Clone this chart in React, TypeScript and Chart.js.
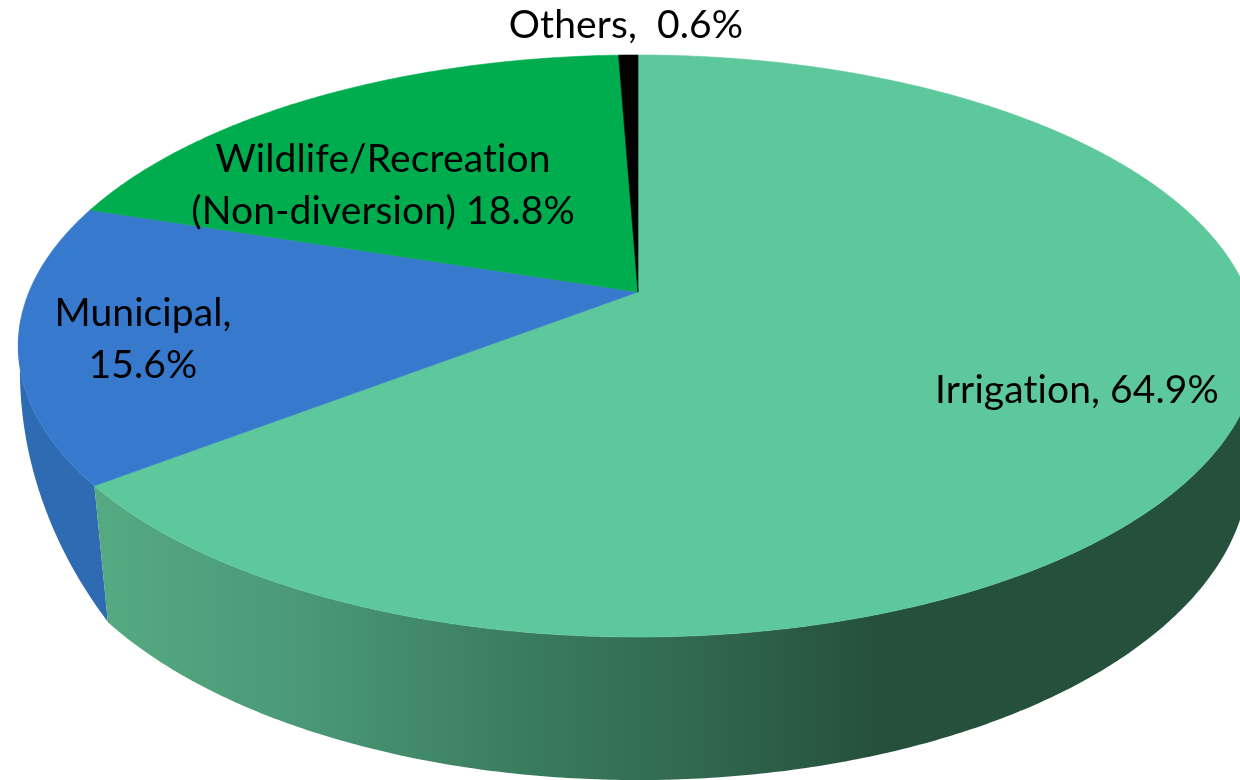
import React, { useEffect, useRef } from "react";
import { Chart, registerables } from "chart.js";

Chart.register(...registerables);

const categories = ["Irrigation", "Municipal", "Wildlife/Recreation (Non-diversion)", "Others"];
const shares = [64.9, 15.6, 18.8, 0.6];
const topColors = ["#5DC89B", "#377ACD", "#00AD4E", "#000000"];
const labelLines = [
  ["Irrigation, 64.9%"],
  ["Municipal,", "15.6%"],
  ["Wildlife/Recreation", "(Non-diversion) 18.8%"],
  ["Others,  0.6%"],
];
const labelAnchors = [
  [1077, 403],
  [143, 326],
  [383, 172],
  [626, 38],
];
const LINE_GAP = 52;
const FONT = '39px Lato, "Noto Sans", sans-serif';

type Plane = { x: number; y: number; a: number; b: number; k: number };
const topPlane: Plane = { x: 638, y: 292, a: 609, b: 281, k: 0.1856 };
const basePlane: Plane = { x: 638, y: 414.5, a: 602.8, b: 305.6, k: 0.164 };
const municipalBasePlane: Plane = { x: 638, y: 300.4, a: 611.8, b: 480.1, k: 0.142 };

// Angle measured clockwise from 12 o'clock, with a slight view correction.
function project(p: Plane, angle: number): [number, number] {
  const clock = angle + Math.PI / 2;
  const s = Math.sin(clock);
  const view = clock - 0.042 * s * s;
  const u = Math.sin(view);
  const v = -Math.cos(view);
  const w = 1 - p.k * v;
  return [p.x + (p.a * u) / w, p.y + (p.b * v) / w];
}

function edge(p: Plane, from: number, to: number): [number, number][] {
  const n = Math.max(4, Math.ceil(Math.abs(to - from) * 120));
  const pts: [number, number][] = [];
  for (let i = 0; i <= n; i++) pts.push(project(p, from + ((to - from) * i) / n));
  return pts;
}

function wallFill(ctx: CanvasRenderingContext2D, index: number) {
  const g = ctx.createLinearGradient(90, 0, 880, 0);
  if (index === 0) {
    g.addColorStop(0, "#56AB83");
    g.addColorStop(0.27, "#4A9877");
    g.addColorStop(0.52, "#3B7F60");
    g.addColorStop(0.76, "#316850");
    g.addColorStop(1, "#25503C");
    return g;
  }
  return "#2E6BB3";
}

const pie3d = {
  id: "pie3d",
  beforeDatasetsDraw(chart: any) {
    const ctx: CanvasRenderingContext2D = chart.ctx;
    const arcs = chart.getDatasetMeta(0).data;
    const colors = chart.data.datasets[0].backgroundColor;
    ctx.save();
    // side walls: only the two front slices show one
    arcs.slice(0, 2).reverse().forEach((arc: any, r: number) => {
      const i = 1 - r;
      const plane = i === 1 ? municipalBasePlane : basePlane;
      const top = edge(topPlane, arc.startAngle, arc.endAngle);
      const base = edge(plane, arc.startAngle, arc.endAngle).reverse();
      ctx.save();
      ctx.beginPath();
      ctx.rect(0, 320, chart.width, chart.height - 320);
      ctx.clip();
      ctx.beginPath();
      [...top, ...base].forEach(([x, y], j) => (j ? ctx.lineTo(x, y) : ctx.moveTo(x, y)));
      ctx.closePath();
      ctx.fillStyle = wallFill(ctx, i);
      ctx.fill();
      ctx.restore();
    });
    // top faces
    arcs.forEach((arc: any, i: number) => {
      ctx.beginPath();
      ctx.moveTo(topPlane.x, topPlane.y);
      edge(topPlane, arc.startAngle, arc.endAngle).forEach(([x, y]) => ctx.lineTo(x, y));
      ctx.closePath();
      ctx.fillStyle = colors[i];
      ctx.strokeStyle = colors[i];
      ctx.lineWidth = 0.6;
      ctx.fill();
      ctx.stroke();
    });
    // labels
    ctx.fillStyle = "#000000";
    ctx.font = FONT;
    (ctx as any).letterSpacing = "0.1px";
    ctx.textAlign = "center";
    ctx.textBaseline = "alphabetic";
    labelLines.forEach((lines, i) => {
      lines.forEach((line, j) => {
        ctx.fillText(line, labelAnchors[i][0], labelAnchors[i][1] + j * LINE_GAP);
      });
    });
    ctx.restore();
    return false;
  },
};

export default function App() {
  const ref = useRef<HTMLCanvasElement | null>(null);
  useEffect(() => {
    document.body.style.margin = "0";
    const chart = new Chart(ref.current as HTMLCanvasElement, {
      type: "pie",
      data: {
        labels: categories,
        datasets: [{ data: shares, backgroundColor: topColors, borderWidth: 0 }],
      },
      options: {
        responsive: false,
        animation: false,
        plugins: { legend: { display: false }, tooltip: { enabled: false } },
      },
      plugins: [pie3d],
    } as any);
    return () => chart.destroy();
  }, []);
  return <canvas ref={ref} width={1240} height={780} style={{ display: "block" }} />;
}
